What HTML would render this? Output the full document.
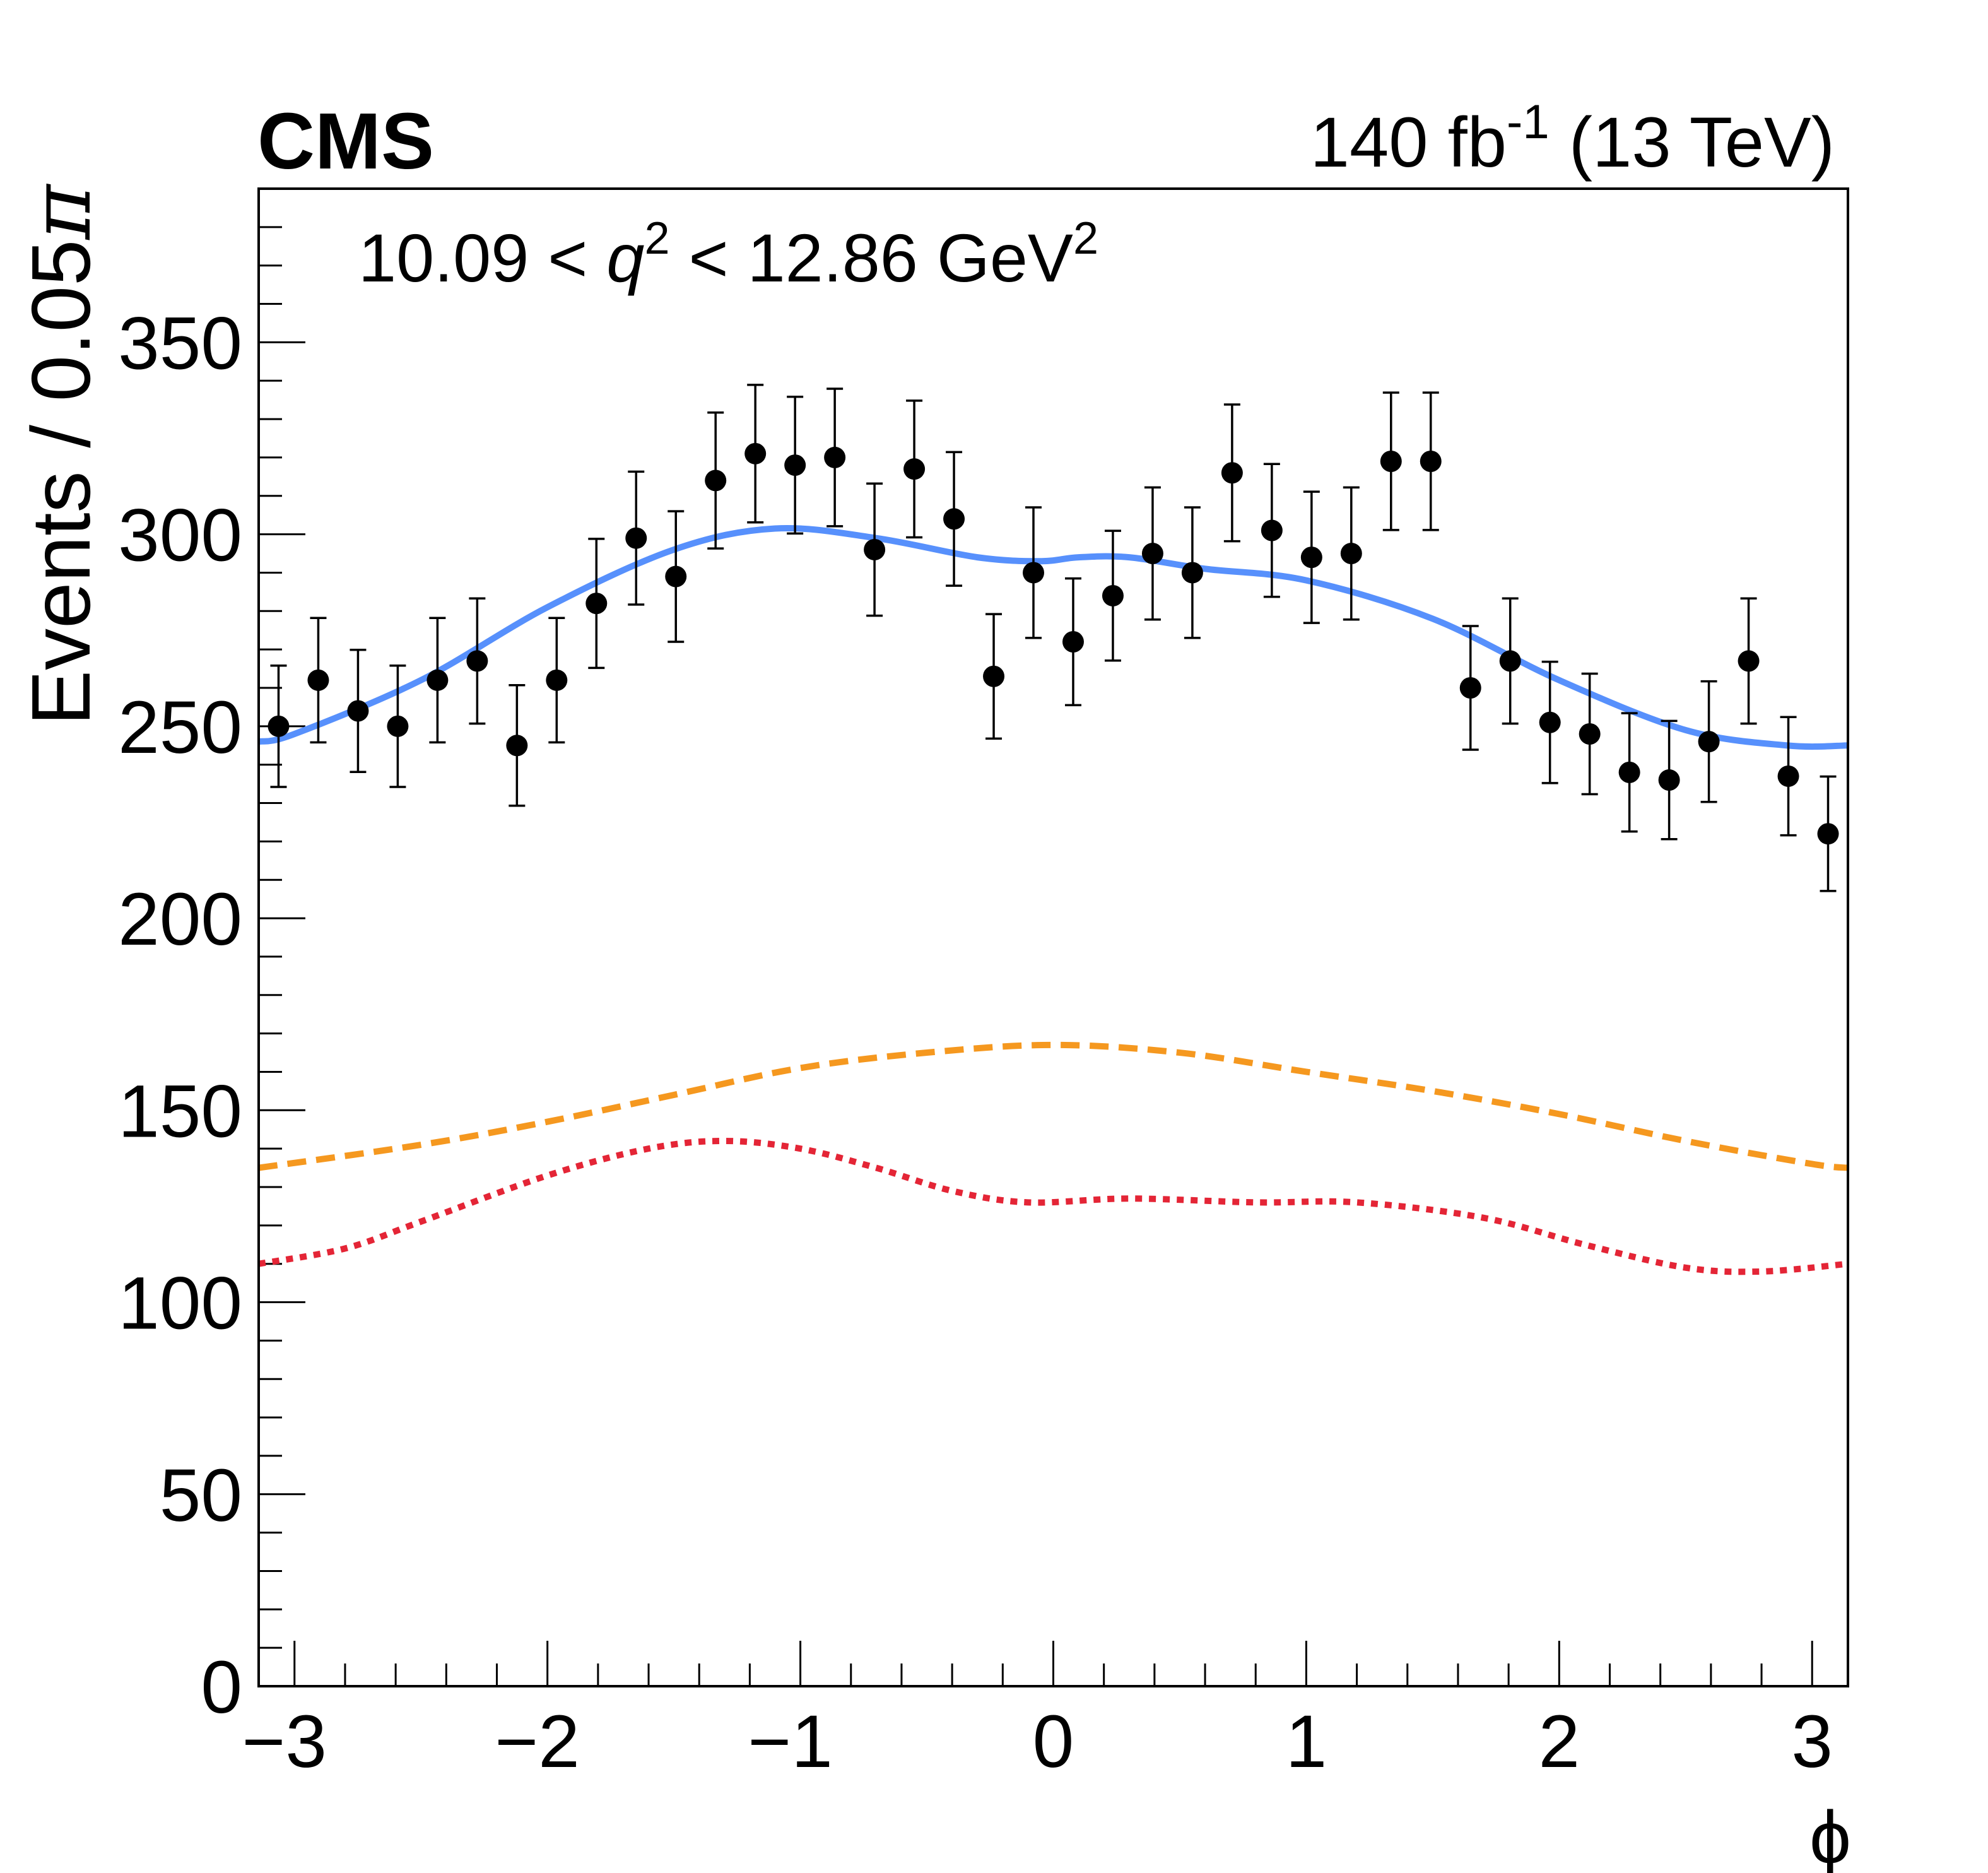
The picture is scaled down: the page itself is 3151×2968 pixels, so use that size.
<!DOCTYPE html>
<html><head><meta charset="utf-8"><style>html,body{margin:0;padding:0;background:#fff}svg{display:block}text{font-family:"Liberation Sans",sans-serif}</style></head>
<body>
<svg id="chart" width="3151" height="2968" viewBox="0 0 3151 2968" xmlns="http://www.w3.org/2000/svg">
<rect width="3151" height="2968" fill="#fff"/>
<g id="plot"></g>
<text x="408" y="267" font-size="126" font-weight="bold">CMS</text>
<text x="2908" y="264" font-size="112" text-anchor="end">140 fb<tspan dy="-45" font-size="76">-1</tspan><tspan dy="45"> (13 TeV)</tspan></text>
<text x="568" y="446" font-size="108">10.09 &lt; <tspan font-style="italic">q</tspan><tspan dy="-44" font-size="72">2</tspan><tspan dy="44"> &lt; 12.86 GeV</tspan><tspan dy="-44" font-size="72">2</tspan></text>
<text transform="translate(142,1150) rotate(-90)" font-size="132">Events / 0.05<tspan font-family="DejaVu Serif, serif" font-style="italic">π</tspan></text>
<text x="2868" y="2952" font-size="118" font-family="DejaVu Serif, serif">ϕ</text>
</svg>
<script>
const counts=[250,262,254,250,262,267,245,262,282,299,289,314,321,318,320,296,317,304,263,290,272,284,295,290,316,301,294,295,319,319,260,267,251,248,238,236,246,267,237,222];
const errors=[15.8,16.2,15.9,15.8,16.2,16.3,15.7,16.2,16.8,17.3,17.0,17.7,17.9,17.8,17.9,17.2,17.8,17.4,16.2,17.0,16.5,16.9,17.2,17.0,17.8,17.3,17.1,17.2,17.9,17.9,16.1,16.3,15.8,15.7,15.4,15.4,15.7,16.3,15.4,14.9];
const totalPhi=[-3.1416,-3,-2.5,-2,-1.5,-1.1,-0.7,-0.3,-0.05,0.1,0.3,0.6,1.0,1.5,2.0,2.5,2.9,3.1416];
const totalVal=[246,248,262,281,296,301.5,299,294,293,294,294,291,288,278,262,249,245,245];
const comp1Phi=[-3.1416,-2.5,-2,-1.5,-1,-0.5,0,0.5,1,1.5,2,2.5,3,3.1416];
const comp1Val=[135,141,147,154,161,165,167,165,160,155,149,142,136,135];
const comp2Phi=[-3.1416,-2.8,-2.5,-2,-1.6,-1.3,-1,-0.7,-0.4,-0.1,0.3,0.8,1.2,1.7,2.1,2.5,2.8,3.1416];
const comp2Val=[110,114,121,133,140,142,140,135,129,126,127,126,126,122,115,109,108,110];
const yTicks=[0,50,100,150,200,250,300,350];
const xTicks=[-3,-2,-1,0,1,2,3];

const NS="http://www.w3.org/2000/svg";
const L=410,R=2929,T=299,B=2672,XMIN=-Math.PI,XMAX=Math.PI,YMAX=390;
const sx=v=>L+(v-XMIN)/(XMAX-XMIN)*(R-L);
const sy=v=>B-v/YMAX*(B-T);
const g=document.getElementById('plot');
function mk(tag,a){const e=document.createElementNS(NS,tag);for(const k in a)e.setAttribute(k,a[k]);g.appendChild(e);return e;}
function smooth(xs,ys){const p=xs.map((x,i)=>[sx(x),sy(ys[i])]);let d=`M${p[0][0]},${p[0][1]}`;
for(let i=0;i<p.length-1;i++){const p0=p[Math.max(i-1,0)],p1=p[i],p2=p[i+1],p3=p[Math.min(i+2,p.length-1)];
d+=` C${p1[0]+(p2[0]-p0[0])/6},${p1[1]+(p2[1]-p0[1])/6} ${p2[0]-(p3[0]-p1[0])/6},${p2[1]-(p3[1]-p1[1])/6} ${p2[0]},${p2[1]}`;}return d;}

for(let v=0;v<=YMAX;v+=10){const maj=v%50===0;
const t=mk('line',{x1:L,x2:L+(maj?74:37),y1:sy(v),y2:sy(v),stroke:'#000','stroke-width':3});

}
for(let k=-15;k<=15;k++){const v=k*0.2;const maj=k%5===0;
const t=mk('line',{x1:sx(v),x2:sx(v),y1:B,y2:B-(maj?72:36),stroke:'#000','stroke-width':3});

}
yTicks.forEach(v=>{const t=mk('text',{x:384,y:sy(v)+42,'font-size':118,'text-anchor':'end'});t.textContent=v;

});
xTicks.forEach(v=>{const t=mk('text',{x:sx(v)+(v<0?-16:0),y:2800,'font-size':118,'text-anchor':'middle'});t.textContent=(v<0?'\u2212':'')+Math.abs(v);

});

const c1=mk('path',{d:smooth(comp1Phi,comp1Val),fill:'none',stroke:'#f5981f','stroke-width':10,'stroke-dasharray':'30,16'});


const c2=mk('path',{d:smooth(comp2Phi,comp2Val),fill:'none',stroke:'#e42536','stroke-width':10,'stroke-dasharray':'11,11'});


const ct=mk('path',{d:smooth(totalPhi,totalVal),fill:'none',stroke:'#5790fc','stroke-width':10});



const w=0.05*Math.PI;
counts.forEach((c,i)=>{const x=sx(-Math.PI+(i+0.5)*w),e=errors[i];
const eb=mk('path',{d:`M${x},${sy(c+e)}V${sy(c-e)}M${x-13},${sy(c+e)}h26M${x-13},${sy(c-e)}h26`,stroke:'#000','stroke-width':3.5,fill:'none'});


const p=mk('circle',{cx:x,cy:sy(c),r:17,fill:'#000'});

});

const fr=mk('rect',{x:L,y:T,width:R-L,height:B-T,fill:'none',stroke:'#000','stroke-width':4});


</script>
</body></html>
